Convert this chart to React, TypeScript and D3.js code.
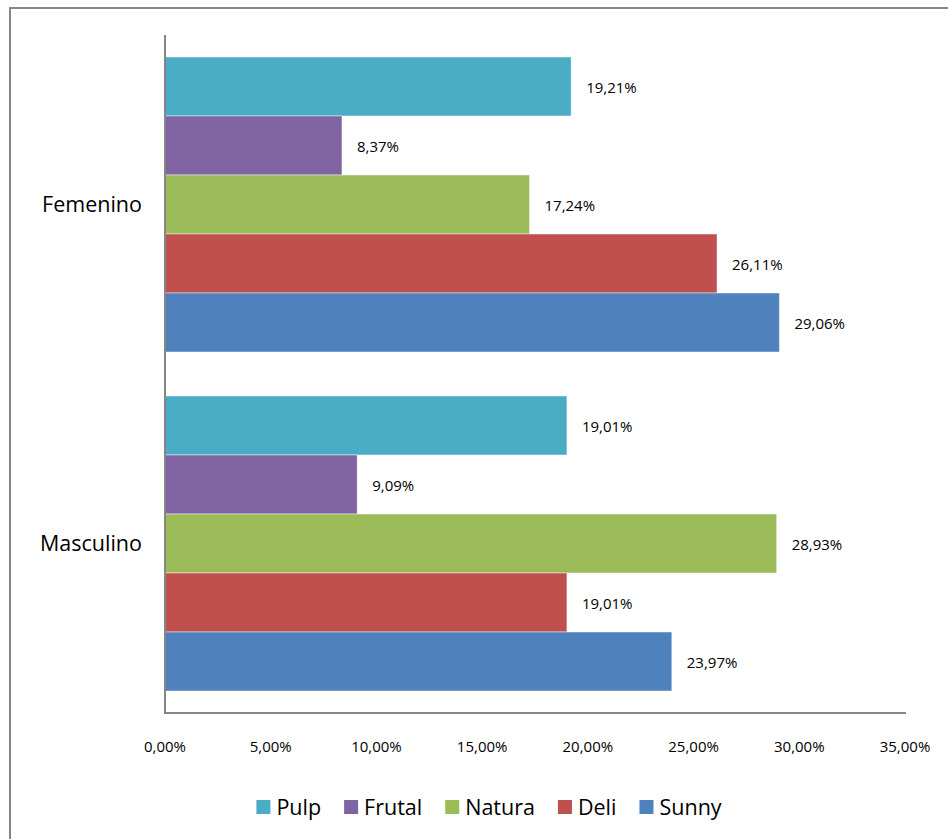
import React, { useEffect, useRef } from "react";
import * as d3 from "d3";

const categories = ["Femenino", "Masculino"];
const seriesNames = ["Pulp", "Frutal", "Natura", "Deli", "Sunny"];
const seriesColors = ["#4BACC6", "#8064A2", "#9BBB59", "#C0504D", "#4F81BD"];
const femeninoValues = [19.21, 8.37, 17.24, 26.11, 29.06];
const masculinoValues = [19.01, 9.09, 28.93, 19.01, 23.97];
const xTicks = [0, 5, 10, 15, 20, 25, 30, 35];

const FONT = "'Open Sans', sans-serif";
const fmt = (v: number) => v.toFixed(2).replace(".", ",") + "%";

export default function App() {
  const ref = useRef<SVGSVGElement>(null);

  useEffect(() => {
    const svg = d3.select(ref.current);
    svg.selectAll("*").remove();

    const W = 948, H = 839;
    const left = 165, right = 905, top = 35, bottom = 713;

    // outer chart frame
    svg.append("rect")
      .attr("x", 10).attr("y", 8)
      .attr("width", W + 20).attr("height", H + 20)
      .attr("fill", "#fff")
      .attr("stroke", "#868686").attr("stroke-width", 2);

    const x = d3.scaleLinear().domain([0, 35]).range([left, right]);
    const y0 = d3.scaleBand<string>().domain(categories).range([top, bottom]).padding(0);
    const y1 = d3.scaleBand<string>().domain(seriesNames)
      .range([0, y0.bandwidth()]).paddingInner(0).paddingOuter(0.373);

    const valuesByCat: Record<string, number[]> = {
      Femenino: femeninoValues,
      Masculino: masculinoValues,
    };

    categories.forEach((cat) => {
      const g = svg.append("g").attr("transform", `translate(0,${y0(cat)})`);
      const vals = valuesByCat[cat];
      seriesNames.forEach((s, i) => {
        const v = vals[i];
        g.append("rect")
          .attr("x", x(0))
          .attr("y", y1(s)!)
          .attr("width", x(v) - x(0))
          .attr("height", y1.bandwidth())
          .attr("fill", seriesColors[i])
          .attr("stroke", "rgba(255,255,255,0.45)")
          .attr("stroke-width", 1);
        g.append("text")
          .attr("x", x(v) + 15)
          .attr("y", y1(s)! + y1.bandwidth() / 2 + 1)
          .attr("dy", "0.35em")
          .attr("font-family", FONT)
          .attr("font-size", 15)
          .attr("fill", "#000")
          .text(fmt(v));
      });
      // category label
      svg.append("text")
        .attr("x", left - 23)
        .attr("y", y0(cat)! + y0.bandwidth() / 2)
        .attr("dy", "0.35em")
        .attr("text-anchor", "end")
        .attr("font-family", FONT)
        .attr("font-size", 21.5)
        .attr("fill", "#000")
        .text(cat);
    });

    // axes
    svg.append("line")
      .attr("x1", left).attr("x2", left)
      .attr("y1", top).attr("y2", bottom + 1)
      .attr("stroke", "#868686").attr("stroke-width", 2);
    svg.append("line")
      .attr("x1", left - 1).attr("x2", x(35) + 1)
      .attr("y1", bottom).attr("y2", bottom)
      .attr("stroke", "#868686").attr("stroke-width", 2);

    svg.selectAll("text.tick")
      .data(xTicks)
      .join("text")
      .attr("class", "tick")
      .attr("x", (d) => x(d))
      .attr("y", 747)
      .attr("dy", "0.35em")
      .attr("text-anchor", "middle")
      .attr("font-family", FONT)
      .attr("font-size", 15)
      .attr("fill", "#000")
      .text((d) => fmt(d));

    // legend
    const lg = svg.append("g");
    let cx = 0;
    seriesNames.forEach((s, i) => {
      lg.append("rect")
        .attr("x", cx).attr("y", 800)
        .attr("width", 14).attr("height", 14)
        .attr("fill", seriesColors[i]);
      const t = lg.append("text")
        .attr("x", cx + 20)
        .attr("y", 807)
        .attr("dy", "0.35em")
        .attr("font-family", FONT)
        .attr("font-size", 21.5)
        .attr("fill", "#000")
        .text(s);
      const w = (t.node() as SVGTextElement).getComputedTextLength();
      cx += 20 + w + (i < seriesNames.length - 1 ? 23 : 0);
    });
    const legendCenter = 489;
    lg.attr("transform", `translate(${legendCenter - cx / 2},0)`);
  }, []);

  return (
    <svg
      ref={ref}
      width={948}
      height={839}
      style={{ position: "absolute", left: 0, top: 0, background: "#fff" }}
    />
  );
}
